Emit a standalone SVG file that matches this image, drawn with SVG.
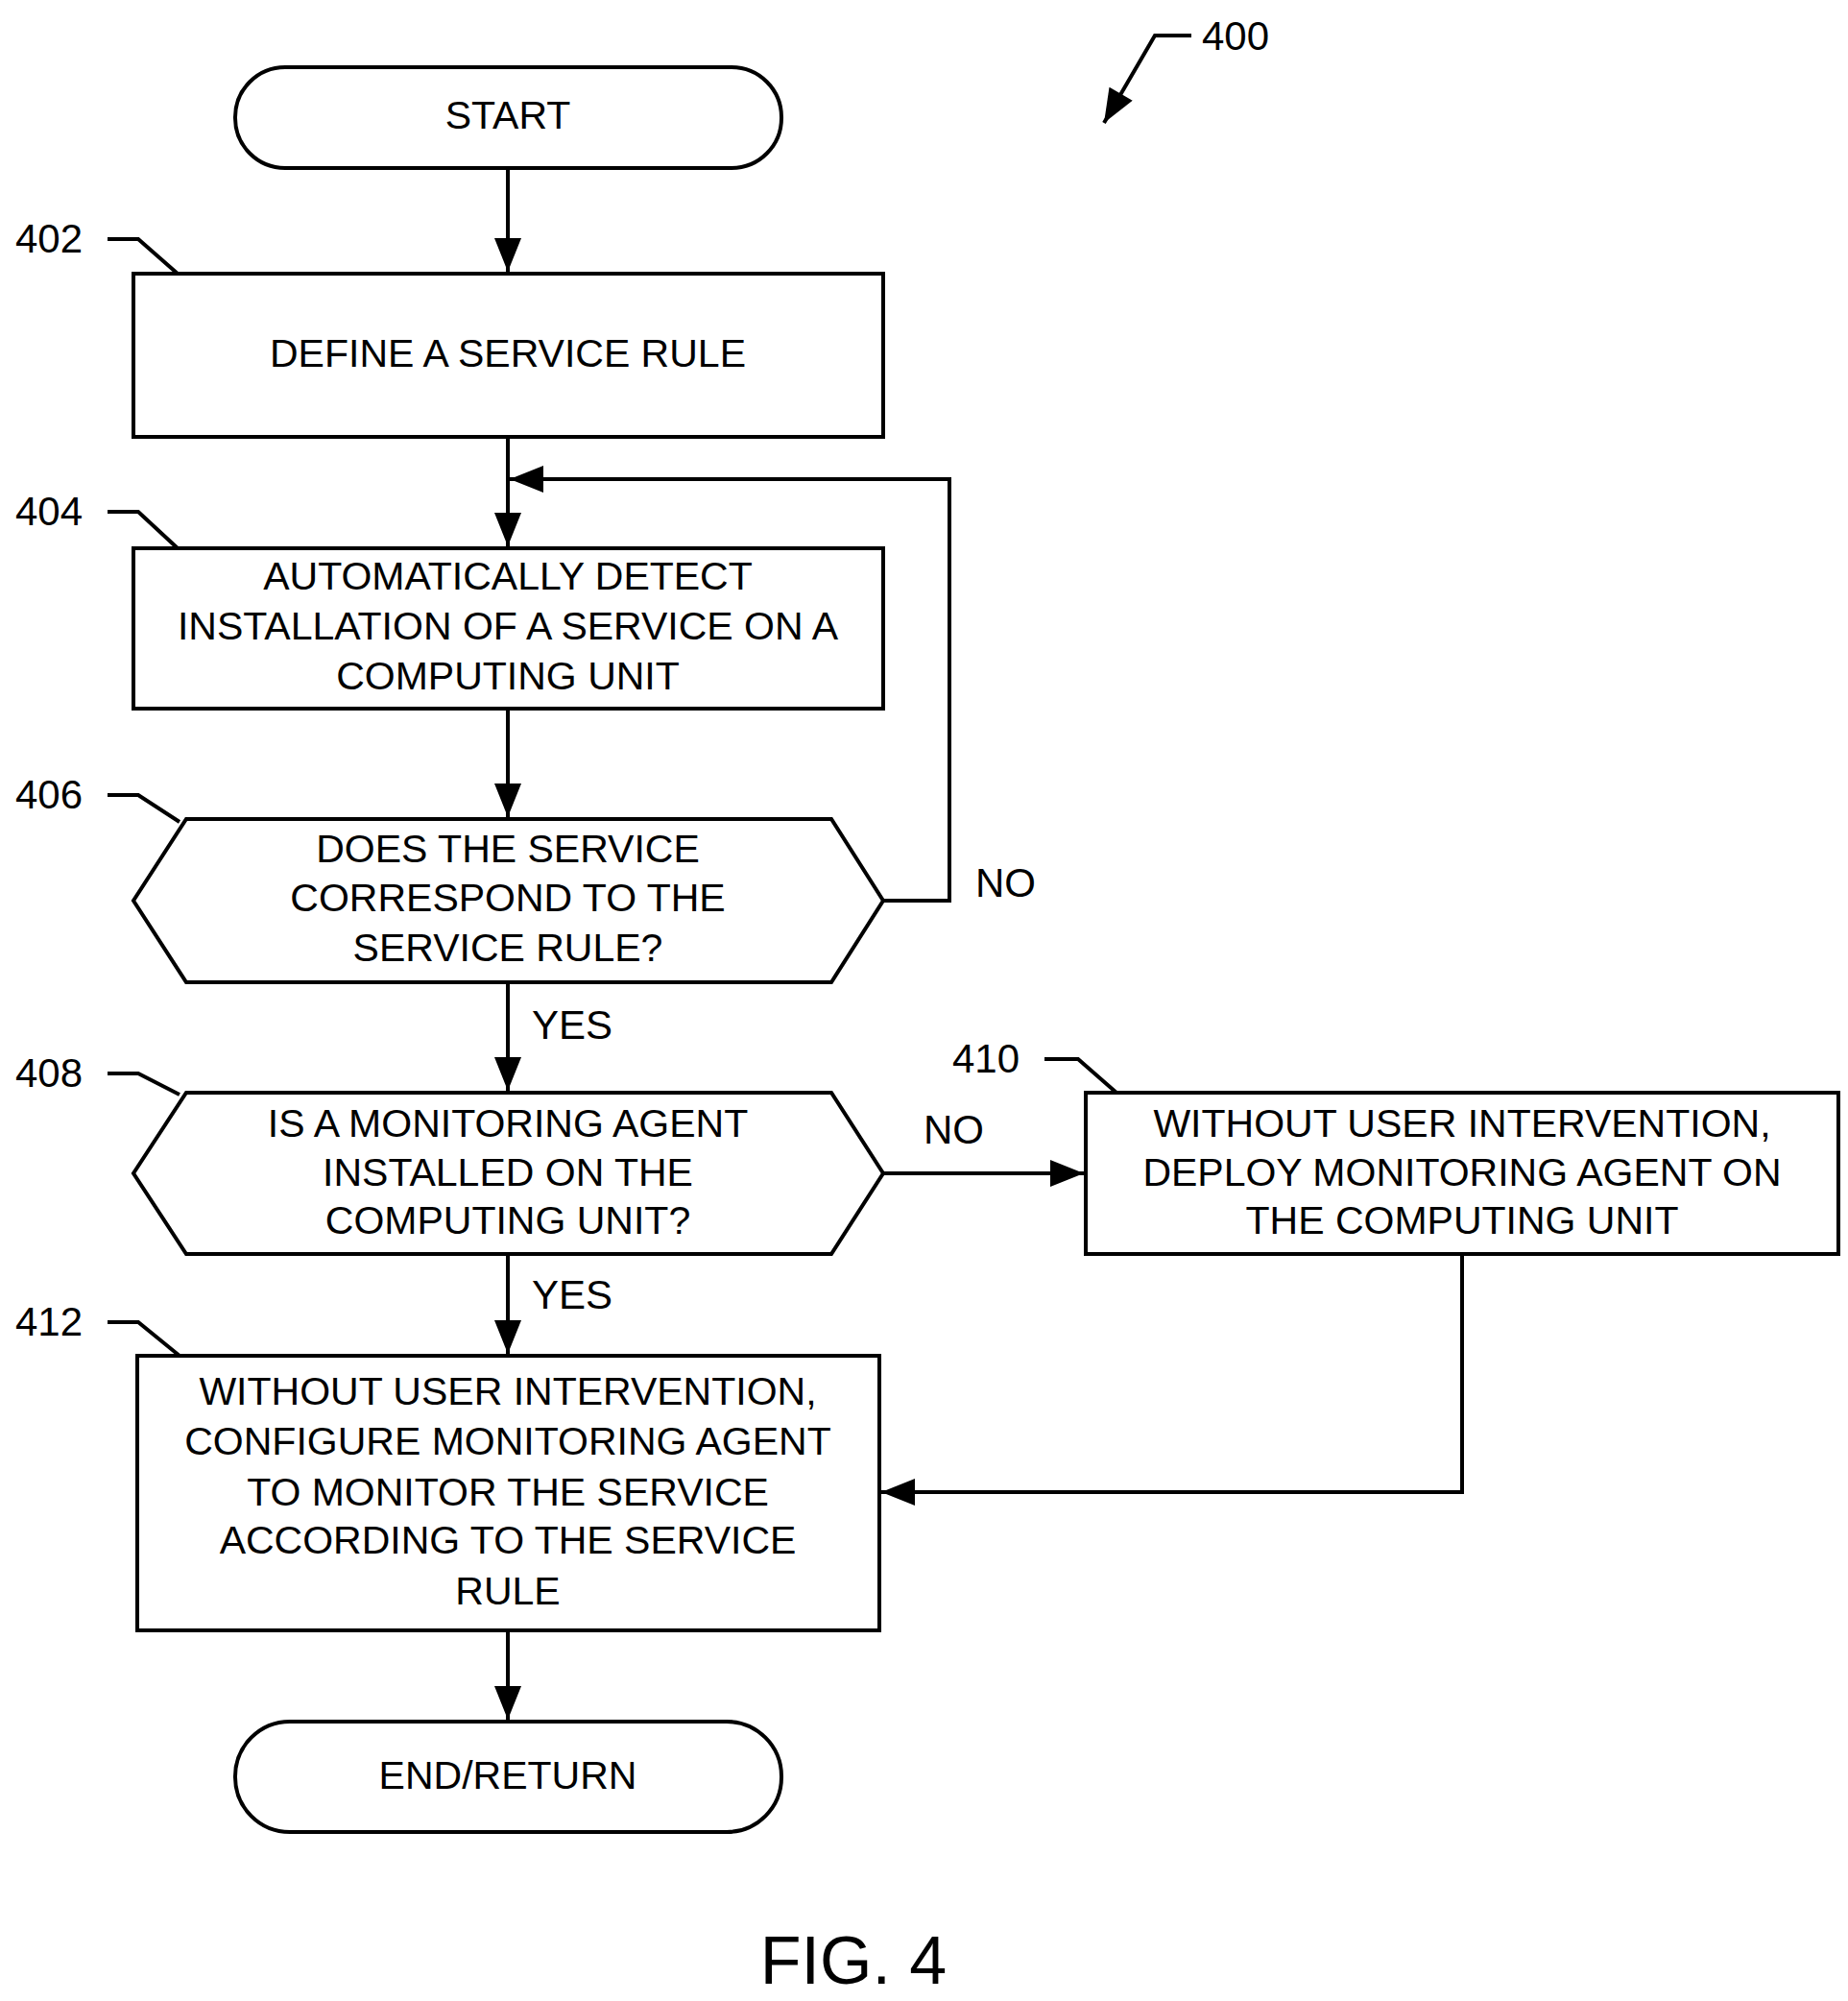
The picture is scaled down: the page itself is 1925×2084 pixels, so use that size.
<svg xmlns="http://www.w3.org/2000/svg" width="1925" height="2084" viewBox="0 0 1925 2084">
<style>
.s{fill:#fff;stroke:#000;stroke-width:4}
.c{fill:none;stroke:#000;stroke-width:4}
.t{font-family:"Liberation Sans",Arial,sans-serif;font-size:41px;text-anchor:middle;fill:#000}
.l{font-family:"Liberation Sans",Arial,sans-serif;font-size:42px;fill:#000}
</style>
<defs>
<marker id="b" viewBox="0 0 10 8" refX="10" refY="4" markerWidth="36" markerHeight="28" orient="auto" markerUnits="userSpaceOnUse"><path d="M0,0L10,4L0,8z"/></marker></defs>
<rect width="1925" height="2084" fill="#fff"/>
<g id="connectors">
<path class="c" d="M529,175V283" marker-end="url(#b)"/>
<path class="c" d="M529,455V569" marker-end="url(#b)"/>
<path class="c" d="M920,938H989V499H531" marker-end="url(#b)"/>
<path class="c" d="M529,738V851" marker-end="url(#b)"/>
<path class="c" d="M529,1023V1136" marker-end="url(#b)"/>
<path class="c" d="M920,1222H1129" marker-end="url(#b)"/>
<path class="c" d="M529,1306V1410" marker-end="url(#b)"/>
<path class="c" d="M1523,1306V1554H918" marker-end="url(#b)"/>
<path class="c" d="M529,1698V1791" marker-end="url(#b)"/>
<text class="l" x="1016" y="934">NO</text>
<text class="l" x="554" y="1082">YES</text>
<text class="l" x="962" y="1191">NO</text>
<text class="l" x="554" y="1363">YES</text>
</g>
<g id="n400"><text class="l" x="1252" y="52">400</text><path class="c" d="M1241,37H1203L1150,128" marker-end="url(#b)"/></g>
<g id="start"><rect class="s" x="245" y="70" width="569" height="105" rx="52"/><text class="t" x="529" y="134">START</text></g>
<g id="n402"><rect class="s" x="139" y="285" width="781" height="170"/><text class="t" x="529" y="382">DEFINE A SERVICE RULE</text>
<text class="l" x="16" y="263">402</text><path class="c" d="M112,249H144L185,285"/></g>
<g id="n404"><rect class="s" x="139" y="571" width="781" height="167"/>
<text class="t" x="529" y="614">AUTOMATICALLY DETECT</text><text class="t" x="529" y="666">INSTALLATION OF A SERVICE ON A</text><text class="t" x="529" y="718">COMPUTING UNIT</text>
<text class="l" x="16" y="547">404</text><path class="c" d="M112,533H144L185,571"/></g>
<g id="n406"><path class="s" d="M194,853H866L920,938L866,1023H194L139,938Z"/>
<text class="t" x="529" y="898">DOES THE SERVICE</text><text class="t" x="529" y="949">CORRESPOND TO THE</text><text class="t" x="529" y="1001">SERVICE RULE?</text>
<text class="l" x="16" y="842">406</text><path class="c" d="M112,828H144L187,856"/></g>
<g id="n408"><path class="s" d="M194,1138H866L920,1222L866,1306H194L139,1222Z"/>
<text class="t" x="529" y="1184">IS A MONITORING AGENT</text><text class="t" x="529" y="1235">INSTALLED ON THE</text><text class="t" x="529" y="1285">COMPUTING UNIT?</text>
<text class="l" x="16" y="1132">408</text><path class="c" d="M112,1118H144L187,1140"/></g>
<g id="n410"><rect class="s" x="1131" y="1138" width="784" height="168"/>
<text class="t" x="1523" y="1184">WITHOUT USER INTERVENTION,</text><text class="t" x="1523" y="1235">DEPLOY MONITORING AGENT ON</text><text class="t" x="1523" y="1285">THE COMPUTING UNIT</text>
<text class="l" x="992" y="1117">410</text><path class="c" d="M1088,1103H1123L1163,1138"/></g>
<g id="n412"><rect class="s" x="143" y="1412" width="773" height="286"/>
<text class="t" x="529" y="1463">WITHOUT USER INTERVENTION,</text><text class="t" x="529" y="1515">CONFIGURE MONITORING AGENT</text><text class="t" x="529" y="1568">TO MONITOR THE SERVICE</text><text class="t" x="529" y="1618">ACCORDING TO THE SERVICE</text><text class="t" x="529" y="1671">RULE</text>
<text class="l" x="16" y="1391">412</text><path class="c" d="M112,1377H144L187,1412"/></g>
<g id="end"><rect class="s" x="245" y="1793" width="569" height="115" rx="57"/><text class="t" x="529" y="1863">END/RETURN</text></g>
<text class="l" x="889" y="2066" style="font-size:70px;text-anchor:middle">FIG. 4</text>
</svg>
